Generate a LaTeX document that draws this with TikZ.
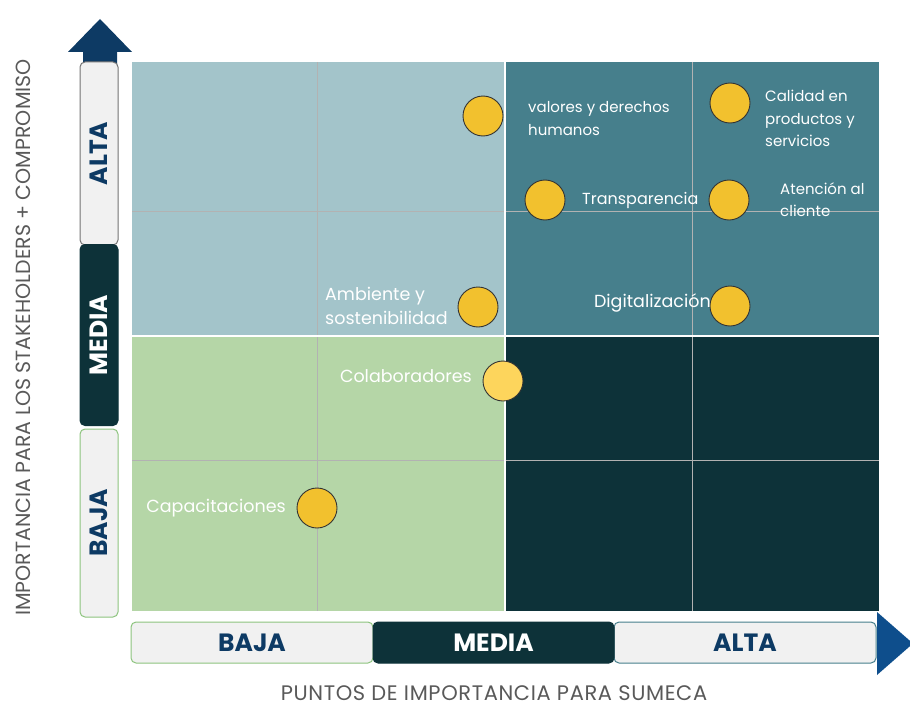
\documentclass[tikz,border=0pt]{standalone}
\usepackage{fontspec}
\setmainfont{Poppins}

\definecolor{qhighlow}{HTML}{A3C4CA}
\definecolor{qhighhigh}{HTML}{467F8C}
\definecolor{qlowlow}{HTML}{B5D6A7}
\definecolor{qlowhigh}{HTML}{0D3239}
\definecolor{dotfill}{HTML}{F2C12E}
\definecolor{dotlight}{HTML}{FDD55C}
\definecolor{navy}{HTML}{0D3A64}
\definecolor{arrowblue}{HTML}{0E4E8C}
\definecolor{boxfill}{HTML}{F1F1F1}
\definecolor{greenline}{HTML}{8DC47E}

\begin{document}
\begin{tikzpicture}[x=1pt,y=-1pt,
  dot/.style={circle,draw=black!80,line width=0.9pt,fill=dotfill,minimum size=40pt,inner sep=0pt},
  lbl/.style={text=white,font=\fontsize{15}{22.5}\selectfont,align=left,inner sep=0pt},
  biglbl/.style={lbl,font=\fontsize{17.5}{24}\selectfont},
  lvl/.style={rounded corners=5pt,line width=1pt,inner sep=0pt,font=\fontsize{25}{25}\selectfont\bfseries},
  lightlvl/.style={lvl,fill=boxfill,text=navy},
  darklvl/.style={lvl,fill=qlowhigh,draw=qlowhigh,text=white},
  title/.style={text=black!65,inner sep=0pt,font=\fontsize{20.5}{20.5}\selectfont}]
  \useasboundingbox (0,0) rectangle (910,709);

  \fill[qhighlow] (132,62) rectangle (505,336);
  \fill[qhighhigh] (505,62) rectangle (879,336);
  \fill[qlowlow] (132,336) rectangle (505,611);
  \fill[qlowhigh] (505,336) rectangle (879,611);

  \draw[color=black!30,line width=0.8pt] (317,62) -- (317,611);
  \draw[color=black!30,line width=0.8pt] (692,62) -- (692,611);
  \draw[color=black!30,line width=0.8pt] (132,211) -- (879,211);
  \draw[color=black!30,line width=0.8pt] (132,460) -- (879,460);
  \draw[color=white,line width=1.5pt] (505,62) -- (505,611);
  \draw[color=white,line width=1.5pt] (132,336) -- (879,336);

  \fill[navy] (68,52) -- (100,19) -- (132,52) -- (117,52) -- (117,66) -- (83,66) -- (83,52) -- cycle;
  \fill[arrowblue] (877,612) -- (913,643.5) -- (877,675) -- cycle;

  \node[lightlvl,draw=black!55,rotate=90,minimum width=183pt,minimum height=38pt] (yalta) at (99,153.5) {ALTA};
  \node[lightlvl,draw=greenline,rotate=90,minimum width=188pt,minimum height=38pt] (ybaja) at (99,523) {BAJA};
  \node[darklvl,rotate=90,minimum width=181pt,minimum height=38pt] (ymedia) at (99,335) {MEDIA};

  \node[lightlvl,draw=greenline,minimum width=242pt,minimum height=41pt] (xbaja) at (252,642.5) {BAJA};
  \node[lightlvl,draw=qhighhigh,minimum width=262pt,minimum height=41pt] (xalta) at (745,642.5) {ALTA};
  \node[darklvl,minimum width=241pt,minimum height=41pt] (xmedia) at (493.5,642.5) {MEDIA};

  \node[title,rotate=90] (ytitle) at (23,337.5) {IMPORTANCIA PARA LOS STAKEHOLDERS + COMPROMISO};
  \node[title,font=\fontsize{21}{21}\selectfont\addfontfeature{LetterSpace=3},anchor=base] (xtitle) at (494,700) {PUNTOS DE IMPORTANCIA PARA SUMECA};

  \node[dot] (valores) at (483,116) {};
  \node[dot] (calidad) at (730,103) {};
  \node[dot] (transparencia) at (545,200) {};
  \node[dot] (atencion) at (729,200) {};
  \node[dot] (ambiente) at (478,307) {};
  \node[dot] (digital) at (730,306) {};
  \node[dot,fill=dotlight] (colab) at (503,381) {};
  \node[dot] (capacit) at (317,508) {};

  \node[lbl,anchor=west] (valoresTxt) at (528,118.5) {valores y derechos\\humanos};
  \node[lbl,anchor=west] (calidadTxt) at (765,118.5) {Calidad en\\productos y\\servicios};
  \node[lbl,anchor=west,font=\fontsize{16}{22}\selectfont] (transparenciaTxt) at (582,200) {Transparencia};
  \node[lbl,anchor=west] (atencionTxt) at (780,199.5) {Atención al\\cliente};
  \node[biglbl,anchor=west] (ambienteTxt) at (325,306) {Ambiente y\\sostenibilidad};
  \node[biglbl,anchor=east] (digitalTxt) at (711,303) {Digitalización};
  \node[biglbl,anchor=east] (colabTxt) at (472,376) {Colaboradores};
  \node[biglbl,anchor=east] (capacitTxt) at (286,508) {Capacitaciones};
\end{tikzpicture}
\end{document}
